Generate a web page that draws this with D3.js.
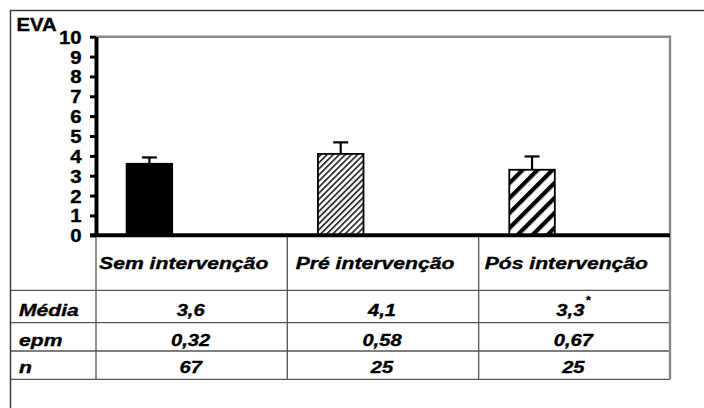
<!DOCTYPE html>
<html>
<head>
<meta charset="utf-8">
<script src="https://cdn.jsdelivr.net/npm/d3@7"></script>
<style>
  html, body { margin: 0; padding: 0; background: #fff; }
  svg { display: block; }
  text { font-family: "Liberation Sans", Arial, sans-serif; font-weight: bold; fill: #000; stroke: #000; stroke-width: 0.35px; }
</style>
</head>
<body>
<svg id="chart" width="704" height="408"></svg>
<script>
// ---- data ----
const categories = ["Sem intervenção", "Pré intervenção", "Pós intervenção"];
const means = [3.6, 4.1, 3.3];
const sems = [0.32, 0.58, 0.67];
const ns = [67, 25, 25];
const meanLabels = ["3,6", "4,1", "3,3"];
const semLabels = ["0,32", "0,58", "0,67"];
const nLabels = ["67", "25", "25"];
const significance = ["", "", "*"];
const rowLabels = ["Média", "epm", "n"];
const yTicks = [0, 1, 2, 3, 4, 5, 6, 7, 8, 9, 10];
const yTitle = "EVA";

// ---- layout ----
const W = 704, H = 408;
const plotL = 96, plotR = 670, plotT = 36.7, plotB = 235.3;
const frameL = 11;
const rowLines = [290.3, 322.7, 351, 379.3];
const rowBaselines = [315.7, 345.7, 373.3];
const headerBaseline = 269;

const svg = d3.select("#chart");
svg.append("rect").attr("width", W).attr("height", H).attr("fill", "#fff");

const x = d3.scaleBand().domain(categories).range([plotL, plotR]).paddingInner(0).paddingOuter(0);
const y = d3.scaleLinear().domain([0, 10]).range([plotB, plotT]);
const bw = x.bandwidth();

// patterns
const defs = svg.append("defs");
const fine = defs.append("pattern").attr("id", "fineHatch")
  .attr("patternUnits", "userSpaceOnUse").attr("width", 4.3).attr("height", 4.3)
  .attr("patternTransform", "rotate(45)");
fine.append("rect").attr("width", 4.3).attr("height", 4.3).attr("fill", "#fff");
fine.append("rect").attr("x", 0).attr("width", 1.8).attr("height", 4.3).attr("fill", "#333");
const wide = defs.append("pattern").attr("id", "wideHatch")
  .attr("patternUnits", "userSpaceOnUse").attr("width", 10.6).attr("height", 10.6)
  .attr("patternTransform", "rotate(45)");
wide.append("rect").attr("width", 10.6).attr("height", 10.6).attr("fill", "#fff");
wide.append("rect").attr("x", 0).attr("width", 4.2).attr("height", 10.6).attr("fill", "#000");
const fills = ["#000", "url(#fineHatch)", "url(#wideHatch)"];

// outer frame (top and left visible)
svg.append("rect").attr("x", 10.5).attr("y", 10.5).attr("width", 760).attr("height", 460)
  .attr("fill", "none").attr("stroke", "#333").attr("stroke-width", 1.4);

// plot border (gray, top + right)
svg.append("path")
  .attr("d", `M${plotL},${plotT} H${plotR} V${plotB}`)
  .attr("fill", "none").attr("stroke", "#8a8a8a").attr("stroke-width", 2.4);

// table grid
const tg = svg.append("g").attr("stroke", "#555").attr("stroke-width", 1.3).attr("fill", "none");
rowLines.forEach(ly => {
  tg.append("line").attr("x1", frameL).attr("x2", plotR).attr("y1", ly).attr("y2", ly);
});
const colEdges = categories.map(c => x(c)).concat([x(categories[categories.length - 1]) + bw]);
colEdges.forEach((cx, i) => {
  tg.append("line").attr("x1", cx).attr("x2", cx).attr("y1", plotB)
    .attr("y2", rowLines[rowLines.length - 1])
    .attr("stroke", i === colEdges.length - 1 ? "#8a8a8a" : "#555")
    .attr("stroke-width", i === colEdges.length - 1 ? 2.4 : 1.3);
});

// bars
const barOff = 0.16, barW = 0.238;
svg.append("g").selectAll("rect").data(categories).join("rect")
  .attr("x", d => x(d) + bw * barOff)
  .attr("width", bw * barW)
  .attr("y", (d, i) => y(means[i]))
  .attr("height", (d, i) => y(0) - y(means[i]))
  .attr("fill", (d, i) => fills[i])
  .attr("stroke", "#000").attr("stroke-width", 1.8);

// error bars (upper only)
const eg = svg.append("g").attr("stroke", "#000").attr("stroke-width", 2.2);
categories.forEach((c, i) => {
  const cx = x(c) + bw * (barOff + barW / 2);
  eg.append("line").attr("x1", cx).attr("x2", cx)
    .attr("y1", y(means[i])).attr("y2", y(means[i] + sems[i]));
  eg.append("line").attr("x1", cx - 7.5).attr("x2", cx + 7.5)
    .attr("y1", y(means[i] + sems[i])).attr("y2", y(means[i] + sems[i]));
});

// y axis
const yAxis = d3.axisLeft(y).tickValues(yTicks).tickSize(6).tickSizeOuter(0).tickFormat(d3.format("d"));
const ag = svg.append("g").attr("transform", `translate(${plotL},0)`).call(yAxis);
ag.select(".domain").attr("stroke", "#000").attr("stroke-width", 4);
ag.selectAll(".tick line").attr("stroke", "#000").attr("stroke-width", 3);
ag.selectAll(".tick text")
  .attr("x", null).attr("dy", null)
  .attr("transform", "translate(-14.5,6.5) scale(1.13,1)")
  .attr("text-anchor", "end")
  .style("font-size", "18px").style("font-family", "'Liberation Sans', Arial, sans-serif")
  .style("font-weight", "bold").attr("fill", "#000");

// zero baseline
svg.append("line").attr("x1", plotL - 6).attr("x2", plotR).attr("y1", y(0)).attr("y2", y(0))
  .attr("stroke", "#000").attr("stroke-width", 4);

// y title
svg.append("text").attr("transform", "translate(16.5,30.7) scale(1.13,1)")
  .style("font-size", "18px").text(yTitle);

// helper for stretched italic text
function stxt(px, py, str, anchor, size, sx) {
  return svg.append("text")
    .attr("transform", `translate(${px},${py}) scale(${sx},1)`)
    .attr("text-anchor", anchor)
    .style("font-size", size + "px").style("font-style", "italic")
    .text(str);
}

// header
categories.forEach(c => {
  stxt(x(c) + bw / 2 - 8, headerBaseline, c, "middle", 16.8, 1.26);
});

// row labels
rowLabels.forEach((r, i) => {
  stxt(19, rowBaselines[i], r, "start", 16.5, 1.28);
});

// values
const rows = [meanLabels, semLabels, nLabels];
rows.forEach((vals, ri) => {
  categories.forEach((c, ci) => {
    const t = stxt(x(c) + bw / 2 - 1, rowBaselines[ri], vals[ci], "middle", 16.5, 1.22);
    if (ri === 0 && significance[ci]) {
      t.append("tspan").attr("dy", -12).attr("dx", 1).style("font-size", "10px").text(significance[ci]);
    }
  });
});
</script>
</body>
</html>
